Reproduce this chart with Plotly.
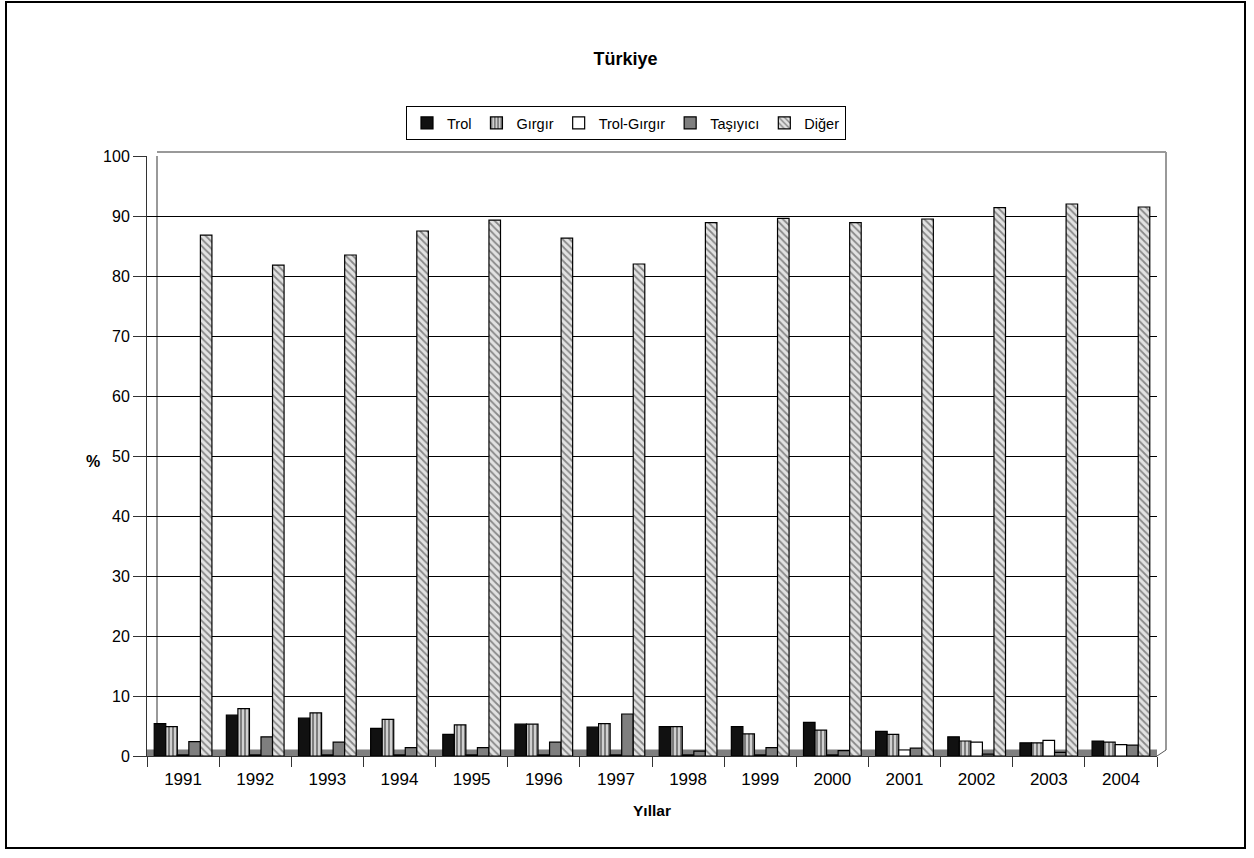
import plotly.graph_objects as go

# Share of the catch by fishing-vessel type, Türkiye (%)
years = ["1991", "1992", "1993", "1994", "1995", "1996", "1997",
         "1998", "1999", "2000", "2001", "2002", "2003", "2004"]

trol = [5.4, 6.8, 6.3, 4.6, 3.6, 5.3, 4.8, 4.9, 4.9, 5.6, 4.1, 3.2, 2.2, 2.5]
girgir = [4.9, 7.9, 7.2, 6.1, 5.2, 5.3, 5.4, 4.9, 3.7, 4.3, 3.6, 2.5, 2.2, 2.3]
trol_girgir = [0.2, 0.2, 0.2, 0.2, 0.2, 0.2, 0.2, 0.2, 0.2, 0.2, 1.0, 2.3, 2.6, 1.9]
tasiyici = [2.4, 3.2, 2.3, 1.4, 1.4, 2.3, 7.0, 0.8, 1.4, 0.9, 1.3, 0.3, 0.6, 1.8]
diger = [86.8, 81.8, 83.5, 87.5, 89.3, 86.3, 82.0, 88.9, 89.6, 88.9, 89.5, 91.4, 92.0, 91.5]

y_ticks = list(range(0, 101, 10))

FONT = "Liberation Sans, Arial, sans-serif"
W, H = 1254, 858
L, R, T, B = 147, 97, 156, 102
PW, PH = W - L - R, H - T - B


def px_x(p):
    return (p - L) / PW


def px_y(p):
    return (H - B - p) / PH


outline = dict(color="#000000", width=1.2)

fig = go.Figure()
fig.add_trace(go.Bar(name="Trol", x=years, y=trol,
                     marker=dict(color="#111111", line=outline)))
fig.add_trace(go.Bar(name="Gırgır", x=years, y=girgir,
                     marker=dict(color="#c8c8c8", line=outline,
                                 pattern=dict(shape="|", fgcolor="#000000",
                                              bgcolor="#d0d0d0", size=4,
                                              solidity=0.4))))
fig.add_trace(go.Bar(name="Trol-Gırgır", x=years, y=trol_girgir,
                     marker=dict(color="#ffffff", line=outline)))
fig.add_trace(go.Bar(name="Taşıyıcı", x=years, y=tasiyici,
                     marker=dict(color="#7f7f7f", line=outline)))
fig.add_trace(go.Bar(name="Diğer", x=years, y=diger,
                     marker=dict(color="#dcdcdc", line=outline,
                                 pattern=dict(shape="\\", fgcolor="#2e2e2e",
                                              bgcolor="#e2e2e2", size=5,
                                              solidity=0.35))))

shapes = [
    # floor of the plot
    dict(type="rect", xref="paper", yref="y", x0=0, x1=1, y0=0, y1=1.1,
         fillcolor="#7f7f7f", line=dict(width=0), layer="below"),
    # back-wall edges
    dict(type="line", xref="paper", yref="paper",
         x0=px_x(157), x1=px_x(157), y0=px_y(750), y1=1.0,
         line=dict(color="#999999", width=2), layer="below"),
    dict(type="line", xref="paper", yref="paper",
         x0=px_x(1166), x1=px_x(1166), y0=px_y(750), y1=px_y(152),
         line=dict(color="#999999", width=2)),
    dict(type="line", xref="paper", yref="paper",
         x0=px_x(157), x1=px_x(1166), y0=px_y(152), y1=px_y(152),
         line=dict(color="#999999", width=2)),
    dict(type="line", xref="paper", yref="paper",
         x0=1.0, x1=px_x(1166), y0=0, y1=px_y(750),
         line=dict(color="#555555", width=1)),
    # outer frame
    dict(type="rect", xref="paper", yref="paper",
         x0=px_x(6), x1=px_x(1245), y0=px_y(848), y1=px_y(2),
         line=dict(color="#000000", width=2), fillcolor="rgba(0,0,0,0)"),
]

annotations = [
    dict(text="<b>%</b>", xref="paper", yref="paper",
         x=px_x(93), y=px_y(461), xanchor="center", yanchor="middle",
         showarrow=False,
         font=dict(family=FONT, size=16, color="#000000")),
    dict(text="<b>Yıllar</b>", xref="paper", yref="paper",
         x=0.5, y=px_y(811), xanchor="center", yanchor="middle",
         showarrow=False,
         font=dict(family=FONT, size=15.5, color="#000000")),
]

fig.update_layout(
    width=W, height=H,
    margin=dict(l=L, r=R, t=T, b=B),
    paper_bgcolor="#ffffff", plot_bgcolor="#ffffff",
    font=dict(family=FONT, size=15, color="#000000"),
    title=dict(text="<b>Türkiye</b>", x=625.5 / W, xanchor="center",
               y=1 - 59 / H, yanchor="middle",
               font=dict(family=FONT, size=18, color="#000000")),
    barmode="group", bargap=0.2, bargroupgap=0.0,
    showlegend=True,
    legend=dict(orientation="h", x=px_x(626), xanchor="center",
                y=px_y(106), yanchor="top",
                bordercolor="#000000", borderwidth=1,
                bgcolor="#ffffff",
                font=dict(family=FONT, size=14.5, color="#000000"),
                itemwidth=30, tracegroupgap=0),
    xaxis=dict(type="category", tickson="boundaries", ticks="outside",
               ticklen=10, tickcolor="#333333", showline=True,
               linecolor="#333333", linewidth=1, showgrid=False,
               ticklabelstandoff=8,
               tickfont=dict(family=FONT, size=17, color="#000000")),
    yaxis=dict(range=[0, 100], tickvals=y_ticks, ticks="outside",
               ticklen=13, tickcolor="#333333", showline=True,
               linecolor="#333333", linewidth=1,
               showgrid=True, gridcolor="#000000", gridwidth=1,
               zeroline=False,
               tickfont=dict(family=FONT, size=16, color="#000000")),
    shapes=shapes,
    annotations=annotations,
)

fig.write_html("out.html")
